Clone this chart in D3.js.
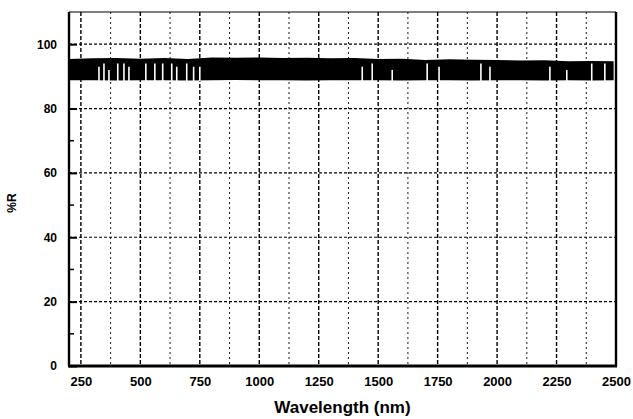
<!DOCTYPE html>
<html>
<head>
<meta charset="utf-8">
<script src="https://cdn.jsdelivr.net/npm/d3@7"></script>
<style>
  body { margin: 0; background: #fff; }
  text { font-family: "Liberation Sans", Arial, sans-serif; font-weight: bold; fill: #000; }
</style>
</head>
<body>
<svg id="chart" width="633" height="419"></svg>
<script>
// reflectance band: upper / lower edge every 100 nm
const bandWl  = [200, 300, 400, 500, 600, 700, 800, 900, 1000, 1100, 1200, 1300, 1400, 1500, 1600, 1700, 1800, 1900, 2000, 2100, 2200, 2300, 2400, 2490]
const bandTop = [95.4, 95.6, 95.7, 95.5, 95.7, 95.4, 95.9, 95.8, 95.9, 95.7, 95.8, 95.6, 95.7, 95.4, 95.5, 95.1, 95.3, 95.2, 95.1, 94.9, 95.0, 94.7, 94.8, 94.7]
const bandLow = [88.8, 88.8, 88.7, 88.8, 88.8, 88.7, 88.8, 88.9, 88.8, 88.8, 88.7, 88.8, 88.8, 88.8, 88.7, 88.8, 88.8, 88.7, 88.8, 88.8, 88.7, 88.8, 88.7, 88.8]

// dips in the noisy trace (white slivers in the band)
const dipWl = [326, 347, 368, 405, 431, 452, 523, 561, 594, 632, 653, 695, 724, 750, 1433, 1475, 1559, 1706, 1756, 1932, 1970, 2222, 2293, 2398, 2453]
const dipHi = [93, 94, 92, 94, 94, 93, 94, 94, 94, 94, 93, 94, 93, 93, 93, 94, 92, 94, 93, 94, 93, 93, 92, 94, 94]

const xTicks = [250, 500, 750, 1000, 1250, 1500, 1750, 2000, 2250, 2500]
const xMinor = [375, 625, 875, 1125, 1375, 1625, 1875, 2125, 2375]
const yTicks = [0, 20, 40, 60, 80, 100]
const yMinor = [10, 30, 50, 70, 90]

const margin = {top: 12, right: 17, bottom: 53, left: 69}
const width = 633 - margin.left - margin.right
const height = 419 - margin.top - margin.bottom

const x = d3.scaleLinear().domain([200, 2500]).range([0, width])
const y = d3.scaleLinear().domain([0, 110]).range([height, 0])

const svg = d3.select("#chart").append("g")
    .attr("transform", "translate(" + margin.left + "," + margin.top + ")")

// grid
svg.append("g").selectAll("line").data(xTicks.slice(0, -1)).join("line")
    .attr("x1", d => x(d)).attr("x2", d => x(d))
    .attr("y1", 0).attr("y2", height)
    .attr("stroke", "#000").attr("stroke-width", 1.4).attr("stroke-dasharray", "4,2")
svg.append("g").selectAll("line").data(xMinor).join("line")
    .attr("x1", d => x(d)).attr("x2", d => x(d))
    .attr("y1", 0).attr("y2", height)
    .attr("stroke", "#000").attr("stroke-width", 0.9).attr("stroke-dasharray", "2,3")
svg.append("g").selectAll("line").data(yTicks.slice(1)).join("line")
    .attr("x1", 0).attr("x2", width)
    .attr("y1", d => y(d)).attr("y2", d => y(d))
    .attr("stroke", "#000").attr("stroke-width", 1.2).attr("stroke-dasharray", "3,2")

// band
const band = bandWl.map((w, i) => ({w: w, hi: bandTop[i], lo: bandLow[i]}))
const area = d3.area()
    .x(d => x(d.w))
    .y0(d => y(d.lo))
    .y1(d => y(d.hi))
svg.append("path").datum(band).attr("d", area).attr("fill", "#000")

svg.append("g").selectAll("line").data(dipWl).join("line")
    .attr("x1", d => x(d)).attr("x2", d => x(d))
    .attr("y1", y(88.5)).attr("y2", (d, i) => y(dipHi[i]))
    .attr("stroke", "#fff").attr("stroke-width", 1.6)

// axes
const yAxis = d3.axisLeft(y).tickValues(yTicks).tickSize(-8).tickPadding(12)
svg.append("g").call(yAxis)
    .call(g => g.select(".domain").remove())
    .call(g => g.selectAll(".tick line").attr("stroke-width", 2))
    .call(g => g.selectAll("text").attr("font-size", 12).attr("font-family", null))
svg.append("g").selectAll("line").data(yMinor).join("line")
    .attr("x1", 0).attr("x2", 5)
    .attr("y1", d => y(d)).attr("y2", d => y(d))
    .attr("stroke", "#000").attr("stroke-width", 1.5)

const xAxis = d3.axisBottom(x).tickValues(xTicks).tickSize(0).tickPadding(11).tickFormat(d3.format("d"))
svg.append("g").attr("transform", "translate(0," + height + ")").call(xAxis)
    .call(g => g.select(".domain").remove())
    .call(g => g.selectAll("text").attr("font-size", 13).attr("font-family", null))

// frame
svg.append("line").attr("x1", 0).attr("x2", width).attr("y1", 0).attr("y2", 0)
    .attr("stroke", "#000").attr("stroke-width", 1.2)
svg.append("line").attr("x1", 0).attr("x2", 0).attr("y1", 0).attr("y2", height)
    .attr("stroke", "#000").attr("stroke-width", 2.4)
svg.append("line").attr("x1", width).attr("x2", width).attr("y1", 0).attr("y2", height)
    .attr("stroke", "#000").attr("stroke-width", 2.4)
svg.append("line").attr("x1", -1).attr("x2", width + 1).attr("y1", height).attr("y2", height)
    .attr("stroke", "#000").attr("stroke-width", 3)

// titles
svg.append("text")
    .attr("x", width / 2).attr("y", height + 47)
    .attr("text-anchor", "middle").attr("font-size", 17)
    .text("Wavelength (nm)")
svg.append("text")
    .attr("transform", "translate(" + (-53) + "," + (height / 2 + 14) + ") rotate(-90)")
    .attr("text-anchor", "middle").attr("font-size", 12)
    .text("%R")
</script>
</body>
</html>
